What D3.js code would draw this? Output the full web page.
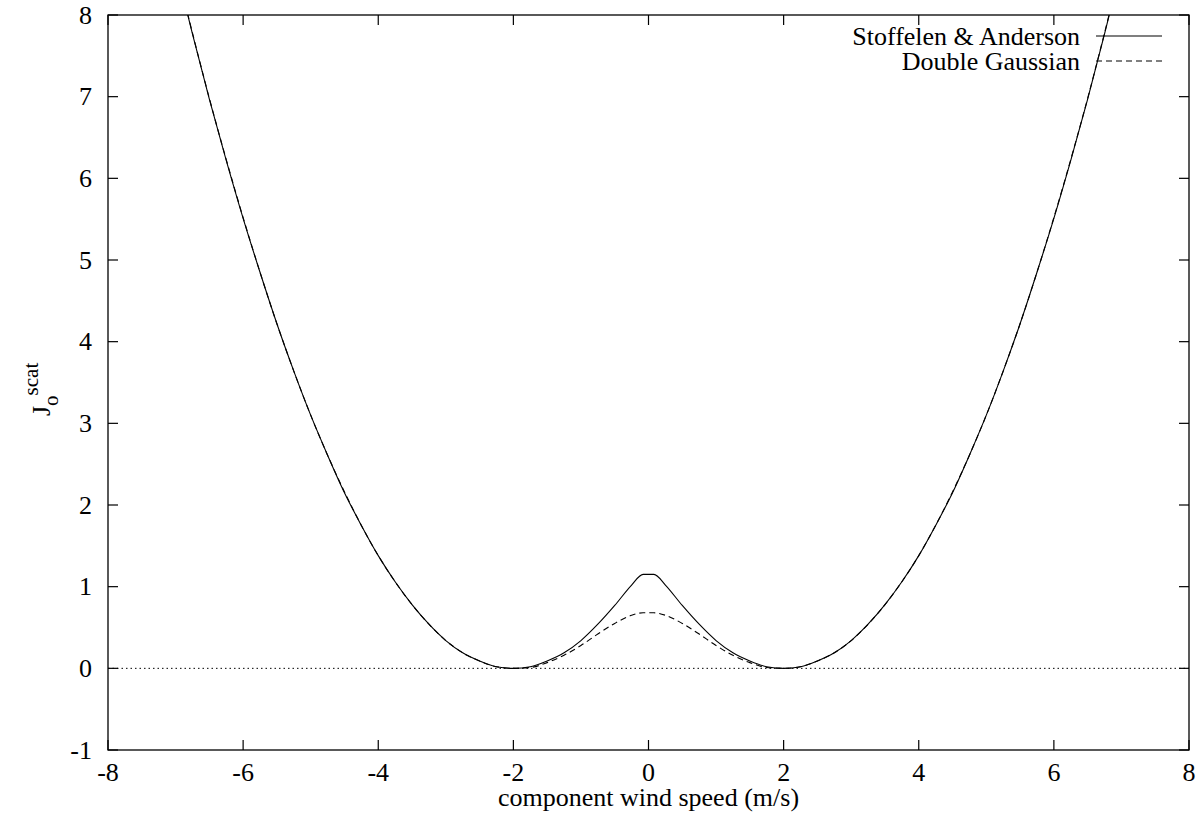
<!DOCTYPE html>
<html>
<head>
<meta charset="utf-8">
<script src="https://cdn.jsdelivr.net/npm/d3@7"></script>
<style>
  body { margin: 0; background: #fff; }
  text { font-family: "Liberation Serif", "Times New Roman", serif; fill: #000; }
</style>
</head>
<body>
<div id="chart"></div>
<script>
// Data
const windSpeed = [-7, -6.75, -6.5, -6.25, -6, -5.75, -5.5, -5.25, -5, -4.75, -4.5, -4.25, -4,
  -3.75, -3.5, -3.25, -3, -2.75, -2.5, -2.25, -2, -1.75, -1.5, -1.25, -1, -0.75, -0.5, -0.25, -0.08,
  0.08, 0.25, 0.5, 0.75, 1, 1.25, 1.5, 1.75, 2, 2.25, 2.5, 2.75, 3, 3.25, 3.5, 3.75, 4,
  4.25, 4.5, 4.75, 5, 5.25, 5.5, 5.75, 6, 6.25, 6.5, 6.75, 7];
const stoffelenAnderson = [8.60, 7.77, 6.97, 6.22, 5.51, 4.85, 4.22, 3.64, 3.10, 2.61, 2.15, 1.75, 1.38,
  1.06, 0.78, 0.54, 0.34, 0.19, 0.09, 0.02, 0.00, 0.02, 0.09, 0.19, 0.34, 0.54, 0.77, 1.02, 1.15,
  1.15, 1.02, 0.77, 0.54, 0.34, 0.19, 0.09, 0.02, 0.00, 0.02, 0.09, 0.19, 0.34, 0.54, 0.78, 1.06, 1.38,
  1.75, 2.15, 2.61, 3.10, 3.64, 4.22, 4.85, 5.51, 6.22, 6.97, 7.77, 8.60];
const doubleGaussian = [8.62, 7.78, 6.98, 6.23, 5.52, 4.85, 4.22, 3.64, 3.10, 2.61, 2.16, 1.75, 1.38,
  1.06, 0.78, 0.54, 0.34, 0.19, 0.09, 0.02, 0.00, 0.01, 0.07, 0.16, 0.28, 0.42, 0.55, 0.65, 0.68,
  0.68, 0.65, 0.55, 0.42, 0.28, 0.16, 0.07, 0.01, 0.00, 0.02, 0.09, 0.19, 0.34, 0.54, 0.78, 1.06, 1.38,
  1.75, 2.16, 2.61, 3.10, 3.64, 4.22, 4.85, 5.52, 6.23, 6.98, 7.78, 8.62];
const xTicks = [-8, -6, -4, -2, 0, 2, 4, 6, 8];
const yTicks = [-1, 0, 1, 2, 3, 4, 5, 6, 7, 8];
const seriesNames = ["Stoffelen & Anderson", "Double Gaussian"];

const W = 1199, H = 815;
const MARGIN = {LEFT: 108, RIGHT: 10, TOP: 15, BOTTOM: 65};
const PW = W - MARGIN.LEFT - MARGIN.RIGHT;
const PH = H - MARGIN.TOP - MARGIN.BOTTOM;
const FS = 26;

const svg = d3.select("#chart").append("svg")
  .attr("width", W).attr("height", H);

const x = d3.scaleLinear().domain([-8, 8]).range([MARGIN.LEFT, MARGIN.LEFT + PW]);
const y = d3.scaleLinear().domain([-1, 8]).range([MARGIN.TOP + PH, MARGIN.TOP]);

svg.append("clipPath").attr("id", "clip")
  .append("rect")
  .attr("x", MARGIN.LEFT).attr("y", MARGIN.TOP)
  .attr("width", PW).attr("height", PH);

// zero line
svg.append("line")
  .attr("x1", x(-8)).attr("x2", x(8))
  .attr("y1", y(0)).attr("y2", y(0))
  .attr("stroke", "#000").attr("stroke-width", 1)
  .attr("stroke-dasharray", "1.5,3");

// ticks, inward, mirrored
const tickLen = 10;
const ticks = svg.append("g").attr("stroke", "#000").attr("stroke-width", 1.2);
xTicks.forEach(function (t) {
  ticks.append("line").attr("x1", x(t)).attr("x2", x(t))
    .attr("y1", y(-1)).attr("y2", y(-1) - tickLen);
  ticks.append("line").attr("x1", x(t)).attr("x2", x(t))
    .attr("y1", y(8)).attr("y2", y(8) + tickLen);
});
yTicks.forEach(function (t) {
  ticks.append("line").attr("x1", x(-8)).attr("x2", x(-8) + tickLen)
    .attr("y1", y(t)).attr("y2", y(t));
  ticks.append("line").attr("x1", x(8)).attr("x2", x(8) - tickLen)
    .attr("y1", y(t)).attr("y2", y(t));
});

// tick labels
svg.append("g").selectAll("text").data(xTicks).enter().append("text")
  .attr("x", function (d) { return x(d); })
  .attr("y", y(-1) + 31)
  .attr("text-anchor", "middle")
  .style("font-size", FS + "px")
  .text(function (d) { return d; });

svg.append("g").selectAll("text").data(yTicks).enter().append("text")
  .attr("x", x(-8) - 16)
  .attr("y", function (d) { return y(d); })
  .attr("dy", "0.33em")
  .attr("text-anchor", "end")
  .style("font-size", FS + "px")
  .text(function (d) { return d; });

// axis titles
svg.append("text")
  .attr("x", x(0)).attr("y", y(-1) + 56)
  .attr("text-anchor", "middle")
  .style("font-size", FS + "px")
  .text("component wind speed (m/s)");

const yl = svg.append("text")
  .attr("transform", "translate(50,416) rotate(-90)")
  .attr("text-anchor", "start")
  .style("font-size", FS + "px");
yl.append("tspan").text("J");
yl.append("tspan").attr("dy", 8).style("font-size", "21px").text("o");
yl.append("tspan").attr("dy", -20).style("font-size", "21px").text("scat");

// curves
const line = d3.line()
  .x(function (d) { return x(d[0]); })
  .y(function (d) { return y(d[1]); })
  .curve(d3.curveMonotoneX);

const curves = svg.append("g").attr("clip-path", "url(#clip)");
curves.append("path")
  .attr("d", line(windSpeed.map(function (v, i) { return [v, stoffelenAnderson[i]]; })))
  .attr("fill", "none").attr("stroke", "#000").attr("stroke-width", 1.1);
curves.append("path")
  .attr("d", line(windSpeed.map(function (v, i) { return [v, doubleGaussian[i]]; })))
  .attr("fill", "none").attr("stroke", "#000").attr("stroke-width", 1.1)
  .attr("stroke-dasharray", "6,4");

// legend
const leg = svg.append("g");
seriesNames.forEach(function (name, i) {
  const ly = 36 + i * 25;
  leg.append("text")
    .attr("x", 1080).attr("y", ly).attr("dy", "0.33em")
    .attr("text-anchor", "end")
    .style("font-size", FS + "px")
    .text(name);
  leg.append("line")
    .attr("x1", 1096).attr("x2", 1162)
    .attr("y1", ly).attr("y2", ly)
    .attr("stroke", "#000").attr("stroke-width", 1.1)
    .attr("stroke-dasharray", i === 1 ? "6,4" : null);
});

// frame
svg.append("rect")
  .attr("x", MARGIN.LEFT).attr("y", MARGIN.TOP)
  .attr("width", PW).attr("height", PH)
  .attr("fill", "none").attr("stroke", "#000").attr("stroke-width", 1.3);
</script>
</body>
</html>
